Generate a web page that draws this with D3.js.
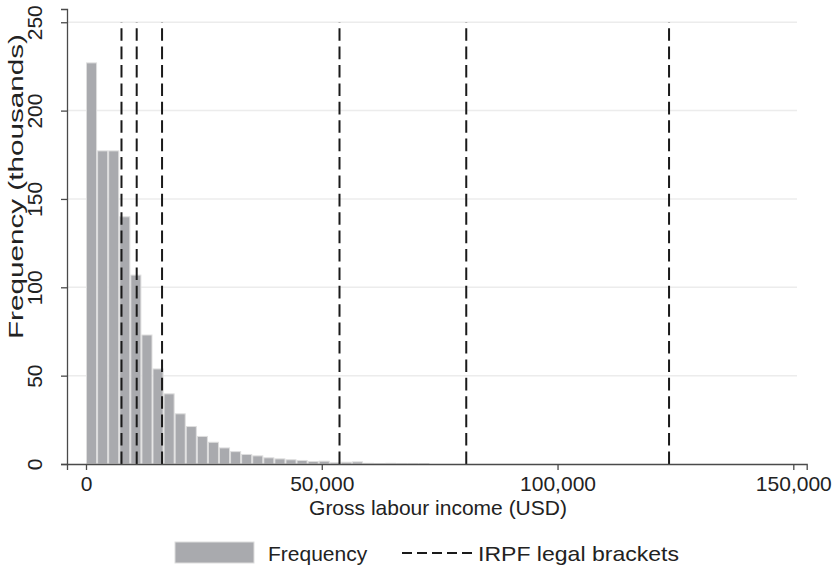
<!DOCTYPE html>
<html>
<head>
<meta charset="utf-8">
<script src="https://cdn.jsdelivr.net/npm/d3@7"></script>
<style>
  html, body { margin: 0; padding: 0; background: #fff; }
  svg { display: block; font-family: "Liberation Sans", Arial, Helvetica, sans-serif; }
</style>
</head>
<body>
<svg id="chart" width="833" height="569"></svg>
<script>
// ---- data ----
const binWidth = 2350; // USD per histogram bin
const binFreq = [227.0, 177.2, 177.2, 139.9, 106.9, 73.0, 53.8, 39.7, 28.4, 21.2,
                 15.6, 12.3, 9.1, 7.0, 5.4, 4.6, 3.5, 2.9, 2.4, 2.0,
                 1.4, 1.6, 0.7, 1.0, 1.2, 0.4, 0.3, 0.4, 0.3, 0.3, 0.2];
const brackets = [7526, 10752, 16128, 53760, 80640, 123648];
const xTicks = [0, 50000, 100000, 150000];
const yTicks = [0, 50, 100, 150, 200, 250];
const xTitle = "Gross labour income (USD)";
const yTitle = "Frequency (thousands)";
const legendLabels = ["Frequency", "IRPF legal brackets"];

const bins = binFreq.map((v, i) => ({x0: i * binWidth, x1: (i + 1) * binWidth, v}));

const svg = d3.select("#chart");
const x = d3.scaleLinear().domain([-4030, 152840]).range([67, 806.7]);
const y = d3.scaleLinear().domain([0, 257.5]).range([464, 9]);

const textColor = "#222";
const axisColor = "#4a4a4a";

// gridlines
svg.append("g").selectAll("line").data(yTicks.filter(d => d > 0)).join("line")
  .attr("x1", 67).attr("x2", 797)
  .attr("y1", d => y(d)).attr("y2", d => y(d))
  .attr("stroke", "#ececec").attr("stroke-width", 1.5);

// bars
svg.append("g").selectAll("rect").data(bins).join("rect")
  .attr("x", d => x(d.x0) + 0.5)
  .attr("width", d => x(d.x1) - x(d.x0) - 1)
  .attr("y", d => y(d.v))
  .attr("height", d => y(0) - y(d.v))
  .attr("fill", "#a9aaae")
  .attr("stroke", "#dedede")
  .attr("stroke-width", 1);

// dashed bracket lines
svg.append("g").selectAll("line").data(brackets).join("line")
  .attr("x1", d => x(d)).attr("x2", d => x(d))
  .attr("y1", y(0)).attr("y2", y(250))
  .attr("stroke", "#1a1a1a").attr("stroke-width", 2)
  .attr("stroke-dasharray", "12.6,5.8");

// x axis
const xAxis = d3.axisBottom(x).tickValues(xTicks).tickSize(6).tickPadding(6)
  .tickFormat(d3.format(","));
const gx = svg.append("g").attr("transform", `translate(0,${y(0)})`).call(xAxis);
gx.select(".domain").attr("stroke", axisColor).attr("stroke-width", 1.3);
gx.selectAll(".tick line").attr("stroke", axisColor).attr("stroke-width", 1.3);
gx.selectAll(".tick text").attr("font-size", 21).attr("fill", textColor)
  .attr("font-family", "Liberation Sans, Arial, sans-serif");

// y axis
const yAxis = d3.axisLeft(y).tickValues(yTicks).tickSize(6).tickPadding(0);
const gy = svg.append("g").attr("transform", `translate(67,0)`).call(yAxis);
gy.select(".domain").attr("stroke", axisColor).attr("stroke-width", 1.3);
gy.selectAll(".tick line").attr("stroke", axisColor).attr("stroke-width", 1.3);
gy.selectAll(".tick text")
  .attr("font-size", 21).attr("fill", textColor)
  .attr("font-family", "Liberation Sans, Arial, sans-serif")
  .attr("text-anchor", "middle").attr("dy", null)
  .attr("x", null)
  .attr("transform", "translate(-25,0) rotate(-90)");

// axis titles
svg.append("text").attr("x", 438).attr("y", 515)
  .attr("text-anchor", "middle").attr("font-size", 21).attr("fill", textColor)
  .text(xTitle);
svg.append("text")
  .attr("transform", `translate(23,${186.5}) rotate(-90)`)
  .attr("text-anchor", "middle").attr("font-size", 21).attr("fill", textColor)
  .attr("textLength", 305).attr("lengthAdjust", "spacingAndGlyphs")
  .text(yTitle);

// legend
const lg = svg.append("g");
lg.append("rect").attr("x", 175).attr("y", 542).attr("width", 79).attr("height", 21)
  .attr("fill", "#a9aaae").attr("stroke", "#dedede").attr("stroke-width", 1);
lg.append("text").attr("x", 268).attr("y", 560.5).attr("font-size", 21).attr("fill", textColor)
  .text(legendLabels[0]);
lg.append("line").attr("x1", 402).attr("x2", 472).attr("y1", 553).attr("y2", 553)
  .attr("stroke", "#1a1a1a").attr("stroke-width", 1.8).attr("stroke-dasharray", "10,5");
lg.append("text").attr("x", 478).attr("y", 560.5).attr("font-size", 21).attr("fill", textColor)
  .attr("textLength", 201).attr("lengthAdjust", "spacingAndGlyphs")
  .text(legendLabels[1]);
</script>
</body>
</html>
